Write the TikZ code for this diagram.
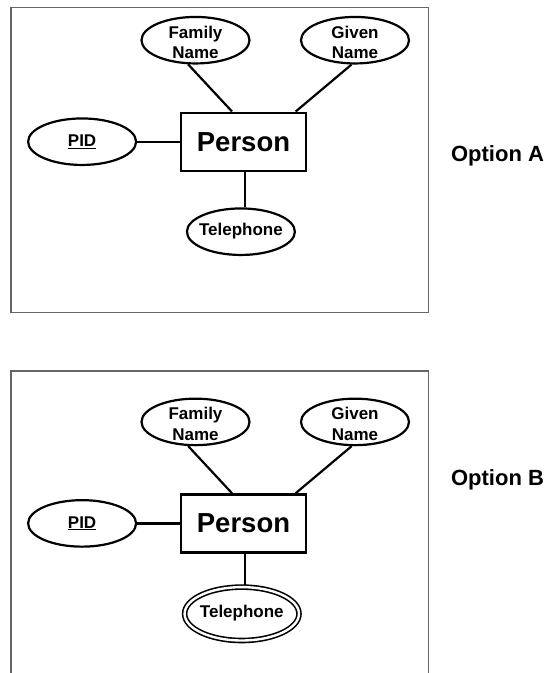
\documentclass[tikz,border=0pt]{standalone}
\usepackage{fontspec}
\setmainfont{Liberation Sans}
\usetikzlibrary{shapes.geometric,backgrounds}
\begin{document}
\begin{tikzpicture}[x=1pt,y=-1pt,
  frameline/.style={draw=black!60,line width=1.1pt},
  attr/.style={ellipse,draw,fill=white,line width=2.2pt,
    minimum width=108pt,minimum height=46.5pt,inner sep=0pt},
  attrtext/.style={font=\bfseries\fontsize{17}{20.5}\selectfont,align=center,inner sep=0pt},
  entity/.style={rectangle,draw,fill=white,line width=2.4pt,
    minimum width=125pt,minimum height=58pt,inner sep=0pt,
    font=\bfseries\fontsize{27.5}{32}\selectfont},
  link/.style={line width=2.2pt},
  optlabel/.style={font=\bfseries\fontsize{22}{26}\selectfont,inner sep=0pt,anchor=base}]

\useasboundingbox (0,0) rectangle (547,673);

% ---------- Option A ----------
\draw[frameline] (11,7.5) rectangle (428.5,312.3);
\begin{scope}[name prefix=a-]
  \node[attr,label={[attrtext,yshift=-2pt]center:{Family\\Name}}] (family) at (195.5,40.2) {};
  \node[attr,label={[attrtext,yshift=-2pt]center:{Given\\Name}}] (given) at (355,40.2) {};
  \node[attr,label={[attrtext]center:\underline{PID}}] (pid) at (82.1,141.7) {};
  \node[entity] (person) at (243.5,141.7) {Person};
  \node[attr,label={[attrtext,yshift=1pt]center:Telephone}] (tel) at (240.9,231.7) {};
  \begin{pgfonlayer}{background}
    \draw[link] (family.-107) -- ([xshift=-11.5pt]person.north);
    \draw[link] (given.-98) -- ([xshift=52.2pt]person.north);
    \draw[link] (pid.east) -- (person.west);
    \draw[link] ([xshift=1.5pt]person.south) -- ([xshift=1.5pt]person.south |- tel.north);
  \end{pgfonlayer}
\end{scope}
\node[optlabel] (optA) at (497.5,161.7) {Option A};

% ---------- Option B ----------
\draw[frameline] (11,673) -- (11,371) -- (428.5,371) -- (428.5,673);
\begin{scope}[name prefix=b-,yshift=-381.7pt]
  \node[attr,label={[attrtext,yshift=-2pt]center:{Family\\Name}}] (family) at (195.5,40.2) {};
  \node[attr,label={[attrtext,yshift=-2pt]center:{Given\\Name}}] (given) at (355,40.2) {};
  \node[attr,label={[attrtext]center:\underline{PID}}] (pid) at (82.1,141.7) {};
  \node[entity] (person) at (243.5,141.7) {Person};
  \node[attr,double,double distance=2.4pt,line width=1.6pt,
        minimum width=114.4pt,minimum height=53.4pt,
        label={[attrtext,yshift=1pt]center:Telephone}] (tel) at (241.8,232.1) {};
  \begin{pgfonlayer}{background}
    \draw[link] (family.-107) -- ([xshift=-11.5pt]person.north);
    \draw[link] (given.-98) -- ([xshift=52.2pt]person.north);
    \draw[link] (pid.east) -- (person.west);
    \draw[link] ([xshift=1.5pt]person.south) -- ([xshift=1.5pt]person.south |- tel.north);
  \end{pgfonlayer}
\end{scope}
\node[optlabel] (optB) at (497.5,485.5) {Option B};
\end{tikzpicture}
\end{document}
